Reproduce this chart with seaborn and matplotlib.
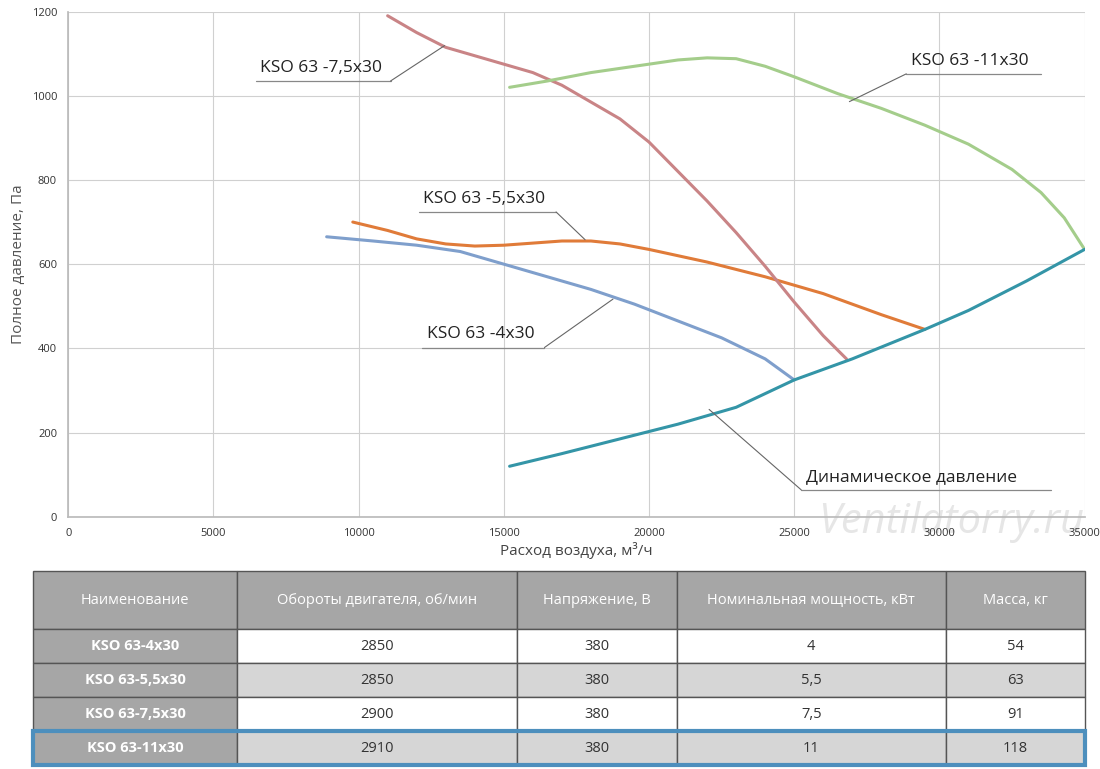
import numpy as np
import pandas as pd
import matplotlib
matplotlib.use("Agg")
import matplotlib.pyplot as plt
import seaborn as sns

sns.set_theme(style="whitegrid")
plt.rcParams['font.family'] = ['Open Sans', 'DejaVu Sans']

# curves (airflow m3/h, pressure Pa)
x_4 = [8900, 10500, 12000, 13500, 15000, 16500, 18000, 19500, 21000, 22500, 24000, 25000]
y_4 = [665, 655, 645, 630, 600, 570, 540, 505, 465, 425, 375, 325]
x_55 = [9800, 11000, 12000, 13000, 14000, 15000, 16000, 17000, 18000, 19000, 20000, 22000, 24000, 26000, 28000, 29500]
y_55 = [700, 680, 660, 648, 643, 645, 650, 655, 655, 648, 635, 605, 570, 530, 480, 445]
x_75 = [11000, 12000, 13000, 14000, 15000, 16000, 17000, 18000, 19000, 20000, 21000, 22000, 23000, 24000, 25000, 26000, 26800]
y_75 = [1190, 1150, 1115, 1095, 1075, 1055, 1025, 985, 945, 890, 820, 750, 675, 595, 510, 430, 375]
x_11 = [15200, 16500, 18000, 19500, 21000, 22000, 23000, 24000, 25000, 26500, 28000, 29500, 31000, 32500, 33500, 34300, 35000]
y_11 = [1020, 1035, 1055, 1070, 1085, 1090, 1088, 1070, 1045, 1005, 970, 930, 885, 825, 770, 710, 635]
x_dyn = [15200, 17000, 19000, 21000, 23000, 25000, 27000, 29500, 31000, 33000, 35000]
y_dyn = [120, 150, 185, 220, 260, 325, 375, 445, 490, 560, 635]

# table
col_names = ['Наименование', 'Обороты двигателя, об/мин', 'Напряжение, В',
             'Номинальная мощность, кВт', 'Масса, кг']
models = ['KSO 63-4x30', 'KSO 63-5,5x30', 'KSO 63-7,5x30', 'KSO 63-11x30']
rpm = ['2850', '2850', '2900', '2910']
volt = ['380', '380', '380', '380']
power = ['4', '5,5', '7,5', '11']
mass = ['54', '63', '91', '118']

fig = plt.figure(figsize=(11, 7.69), dpi=100)
ax = fig.add_axes([0.062, 0.328, 0.924, 0.657])

series = [(x_4, y_4, '#7f9fcc'), (x_55, y_55, '#e07b39'), (x_75, y_75, '#c98486'),
          (x_11, y_11, '#a4cd8b'), (x_dyn, y_dyn, '#3495a7')]
for xs, ys, c in series:
    sns.lineplot(x=xs, y=ys, ax=ax, color=c, linewidth=2.2, sort=False)

ax.set_xlim(0, 35000)
ax.set_ylim(0, 1200)
ax.set_xticks(np.arange(0, 35001, 5000))
ax.set_yticks(np.arange(0, 1201, 200))
ax.tick_params(labelsize=8, colors='#333333', pad=2)
ax.grid(color='#d0d0d0', linewidth=0.8)
for s in ['top', 'right']:
    ax.spines[s].set_visible(False)
for s in ['left', 'bottom']:
    ax.spines[s].set_color('#bbbbbb')
ax.set_xlabel('Расход воздуха, м³/ч', fontsize=11, color='#444444', labelpad=2)
ax.set_ylabel('Полное давление, Па', fontsize=11, color='#555555')

# labels with leader lines: text, underline start, underline y, underline end, curve point
labels = [
    ('KSO 63 -7,5x30', 6450, 1035, 11100, (12960, 1119)),
    ('KSO 63 -11x30', 28860, 1052, 33500, (26900, 986)),
    ('KSO 63 -5,5x30', 12070, 724, 16800, (17800, 658)),
    ('KSO 63 -4x30', 12200, 402, 16400, (18760, 517)),
    ('Динамическое давление', 25240, 64, 33860, (22070, 255)),
]
for txt, x0, yl, x1, pt in labels:
    ax.plot([x0, x1], [yl, yl], color='#888888', linewidth=0.9)
    start = x1 if pt[0] > x1 else x0
    ax.plot([start, pt[0]], [yl, pt[1]], color='#666666', linewidth=0.8)
    ax.text(x0 + 150, yl + 12, txt, fontsize=12.5, color='#222222', va='bottom')

ax.text(35000, -12, 'Ventilatorry.ru', fontsize=30, style='italic', color='#e6e6e6',
        ha='right', va='center', zorder=0, clip_on=False)

# table
tax = fig.add_axes([0.03, 0.005, 0.956, 0.252])
tax.axis('off')
cells = [list(r) for r in zip(models, rpm, volt, power, mass)]
widths = np.array([204, 280, 160, 269, 139], dtype=float)
widths = widths / widths.sum()
tab = tax.table(cellText=cells, colLabels=col_names, colWidths=widths,
                cellLoc='center', bbox=[0, 0, 1, 1])
tab.auto_set_font_size(False)
for (r, c), cell in tab.get_celld().items():
    cell.set_edgecolor('#555555')
    cell.set_linewidth(1)
    cell.set_height(58 / 194 if r == 0 else 34 / 194)
    cell.get_text().set_fontsize(10.5)
    if r == 0:
        cell.set_facecolor('#a6a6a6')
        cell.get_text().set_color('white')
    elif c == 0:
        cell.set_facecolor('#a6a6a6')
        cell.get_text().set_color('white')
        cell.get_text().set_fontweight('bold')
    else:
        cell.set_facecolor('white' if r % 2 == 1 else '#d6d6d6')
        cell.get_text().set_color('#333333')

# blue highlight around last row
fig.canvas.draw()
bb = tab[4, 0].get_window_extent(fig.canvas.get_renderer())
inv = fig.transFigure.inverted()
(fx0, fy0) = inv.transform((bb.x0, bb.y0))
(fx1, fy1) = inv.transform((bb.x1, bb.y1))
fig.add_artist(plt.Rectangle((0.03, fy0), 0.956, fy1 - fy0, transform=fig.transFigure,
                             fill=False, edgecolor='#4d8fbd', linewidth=3, zorder=10))

fig.savefig('out.png', dpi=100)
